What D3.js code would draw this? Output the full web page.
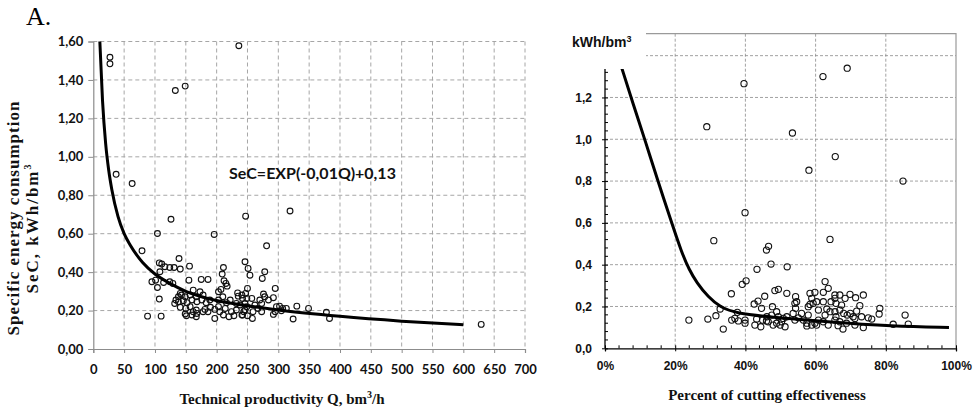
<!DOCTYPE html>
<html>
<head>
<meta charset="utf-8">
<script src="https://cdn.jsdelivr.net/npm/d3@7"></script>
<style>
  body { margin: 0; background: #fff; }
  svg { display: block; }
</style>
</head>
<body>
<svg id="chart" width="980" height="409"></svg>
<script>
// ---------- Left panel: specific energy consumption vs technical productivity ----------
const productivityQ = [
  27, 27, 133, 149, 236, 37, 63, 126, 104, 196, 247, 319, 281, 79, 629,
  139, 107, 111, 116, 124, 131, 141, 156, 108, 211, 246, 251, 209, 95, 101,
  114, 124, 129, 155, 175, 186, 212, 215, 217, 104, 207, 250, 203, 247, 234,
  162, 173, 141, 143, 138, 149, 157, 167, 178, 107, 134, 138, 132, 146, 152,
  160, 168, 176, 183, 189, 203, 210, 216, 222, 235, 242, 249, 141, 150, 157,
  167, 162, 168, 149, 151, 160, 167, 178, 181, 186, 190, 197, 203, 197, 205,
  211, 214, 220, 224, 228, 232, 241, 244, 249, 88, 110, 232, 238,
  254, 278, 274, 295, 276, 278, 292, 270, 273, 284, 257, 241, 246, 262, 267,
  246, 259, 273, 292, 242, 250, 258, 297, 302, 307, 313, 305, 330, 324, 349,
  378, 383, 295
];
const specificEnergy = [
  1.518, 1.484, 1.345, 1.368, 1.578, 0.909, 0.861, 0.675, 0.601, 0.596, 0.691, 0.718, 0.537, 0.511, 0.128,
  0.471, 0.448, 0.442, 0.428, 0.424, 0.424, 0.416, 0.431, 0.402, 0.424, 0.454, 0.419, 0.390, 0.350, 0.358,
  0.346, 0.350, 0.341, 0.358, 0.362, 0.362, 0.355, 0.341, 0.327, 0.320, 0.310, 0.315, 0.298, 0.289, 0.292,
  0.306, 0.298, 0.289, 0.281, 0.272, 0.272, 0.281, 0.272, 0.281, 0.260, 0.255, 0.246, 0.237, 0.251, 0.241,
  0.255, 0.246, 0.255, 0.241, 0.255, 0.255, 0.272, 0.241, 0.255, 0.275, 0.263, 0.263, 0.217, 0.211, 0.220,
  0.203, 0.194, 0.185, 0.182, 0.173, 0.177, 0.168, 0.194, 0.206, 0.194, 0.217, 0.206, 0.220, 0.159, 0.194,
  0.177, 0.211, 0.168, 0.194, 0.173, 0.203, 0.177, 0.194, 0.220, 0.171, 0.171, 0.237, 0.229,
  0.384, 0.402, 0.367, 0.315, 0.286, 0.272, 0.267, 0.255, 0.237, 0.255, 0.263, 0.281, 0.237, 0.229, 0.211,
  0.203, 0.194, 0.194, 0.180, 0.177, 0.173, 0.159, 0.220, 0.223, 0.211, 0.211, 0.199, 0.223, 0.156, 0.211,
  0.191, 0.159, 0.194
];
// fitted trend curve
const fitQ   = [10.6, 15, 20, 25, 30, 40, 50, 60, 80, 100, 125, 150, 200, 250, 300, 400, 500, 600];
const fitSeC = [1.60, 1.29, 1.07, 0.93, 0.83, 0.69, 0.60, 0.54, 0.45, 0.39, 0.34, 0.30, 0.252, 0.225, 0.203, 0.170, 0.145, 0.126];
const leftXTicks = [0, 50, 100, 150, 200, 250, 300, 350, 400, 450, 500, 550, 600, 650, 700];
const leftYTicks = [0, 0.2, 0.4, 0.6, 0.8, 1.0, 1.2, 1.4, 1.6];

// ---------- Right panel: energy vs percent of cutting effectiveness ----------
const cuttingPercent = [
  69.0, 62.1, 39.6, 29.0, 53.4, 65.6, 58.1, 84.9, 39.9, 31.0, 64.1, 46.6, 46.0, 47.3, 51.9, 43.3,
  40.2, 39.1, 36.0, 45.5, 43.6, 42.5, 44.6, 32.8, 37.7, 31.6, 29.3, 23.9, 33.7, 36.1, 37.0, 38.0,
  39.9, 39.9, 43.2, 44.9, 46.0, 42.7, 44.4,
  47.7, 48.9, 47.5, 46.1, 49.4, 50.8, 51.8, 46.5, 47.9, 48.9, 49.9, 51.3, 50.3, 48.4, 49.4, 51.8,
  54.3, 54.6, 54.1, 54.3, 53.6, 55.1, 54.1, 56.0, 56.5, 57.5, 57.5, 57.9, 58.4, 59.8, 58.9, 58.4,
  59.3, 60.3, 57.9, 60.8, 60.8, 60.3, 58.9, 62.2, 62.7, 63.6, 62.2, 62.2, 63.2, 62.7, 64.1, 63.6,
  65.5, 65.5, 66.9, 64.4, 65.8, 68.4, 69.8, 71.4, 73.6, 67.4, 72.6, 65.5, 66.9, 68.0, 69.0, 69.9,
  65.8, 70.7, 71.2, 65.5, 66.9, 66.4, 67.8, 68.8, 71.2, 71.7, 73.1, 75.0, 76.0, 73.6, 78.3, 78.1,
  82.1, 85.5, 86.4, 59.8
];
const energyPerBm3 = [
  1.340, 1.300, 1.266, 1.060, 1.030, 0.917, 0.852, 0.800, 0.649, 0.515, 0.521, 0.488, 0.470, 0.403, 0.390, 0.378,
  0.323, 0.306, 0.261, 0.249, 0.226, 0.212, 0.191, 0.188, 0.172, 0.156, 0.140, 0.135, 0.092, 0.135, 0.143, 0.131,
  0.135, 0.120, 0.140, 0.135, 0.131, 0.111, 0.103,
  0.199, 0.175, 0.159, 0.151, 0.151, 0.143, 0.151, 0.127, 0.111, 0.120, 0.111, 0.103, 0.127, 0.276, 0.282, 0.263,
  0.247, 0.223, 0.215, 0.191, 0.167, 0.146, 0.135, 0.167, 0.135, 0.120, 0.107, 0.159, 0.263, 0.268, 0.239, 0.210,
  0.215, 0.223, 0.199, 0.183, 0.135, 0.111, 0.111, 0.127, 0.319, 0.287, 0.268, 0.223, 0.188, 0.159, 0.175, 0.111,
  0.255, 0.239, 0.255, 0.223, 0.215, 0.239, 0.258, 0.242, 0.255, 0.207, 0.204, 0.175, 0.183, 0.167, 0.159, 0.167,
  0.151, 0.151, 0.143, 0.135, 0.127, 0.108, 0.092, 0.120, 0.111, 0.178, 0.151, 0.146, 0.140, 0.099, 0.191, 0.164,
  0.115, 0.159, 0.116, 0.120
];
const fitPercent = [4.8, 8, 11.7, 14.7, 19, 21.8, 24, 26.1, 29.4, 32.8, 37.5, 47, 63, 82, 98];
const fitEnergy  = [1.34, 1.17, 0.98, 0.82, 0.60, 0.46, 0.375, 0.315, 0.245, 0.197, 0.167, 0.150, 0.127, 0.105, 0.100];
const rightXTicks = [0, 20, 40, 60, 80, 100];
const rightYTicks = [0, 0.2, 0.4, 0.6, 0.8, 1.0, 1.2];

const svg = d3.select("#chart");
const comma = (fmt) => (d) => d3.format(fmt)(d).replace(".", ",");
const serif = "'Liberation Serif', 'Times New Roman', serif";

// ======================= LEFT PANEL =======================
const xL = d3.scaleLinear().domain([0, 700]).range([93.3, 525]);
const yL = d3.scaleLinear().domain([0, 1.6]).range([349, 41.5]);
const gL = svg.append("g");

// dashed grid
gL.append("g").selectAll("line").data(leftXTicks.slice(1)).join("line")
  .attr("x1", d => xL(d)).attr("x2", d => xL(d))
  .attr("y1", yL(1.6)).attr("y2", yL(0))
  .attr("stroke", "#a6a6a6").attr("stroke-width", 1).attr("stroke-dasharray", "4,3");
gL.append("g").selectAll("line").data(leftYTicks.slice(1)).join("line")
  .attr("x1", xL(0)).attr("x2", xL(700))
  .attr("y1", d => yL(d)).attr("y2", d => yL(d))
  .attr("stroke", "#a6a6a6").attr("stroke-width", 1).attr("stroke-dasharray", "4,3");

// axes
const axLX = gL.append("g").attr("transform", `translate(0,${yL(0)})`)
  .call(d3.axisBottom(xL).tickValues(leftXTicks).tickSize(4).tickPadding(12).tickFormat(d3.format("d")));
const axLY = gL.append("g").attr("transform", `translate(${xL(0)},0)`)
  .call(d3.axisLeft(yL).tickValues(leftYTicks).tickSize(5).tickPadding(5).tickFormat(comma(".2f")));
[axLX, axLY].forEach(ax => {
  ax.select(".domain").attr("stroke", "#8c8c8c").attr("stroke-width", 1.2);
  ax.selectAll(".tick line").attr("stroke", "#8c8c8c");
  ax.selectAll("text").attr("font-family", "Lato, 'Open Sans', sans-serif")
    .attr("font-weight", "bold").attr("font-size", 13).attr("fill", "#111");
});

// points
gL.append("g").selectAll("circle").data(productivityQ).join("circle")
  .attr("cx", d => xL(d)).attr("cy", (d, i) => yL(specificEnergy[i]))
  .attr("r", 2.9).attr("fill", "none").attr("stroke", "#111").attr("stroke-width", 1.1);

// trend curve
gL.append("path")
  .datum(fitQ.map((q, i) => [q, fitSeC[i]]))
  .attr("d", d3.line().x(d => xL(d[0])).y(d => yL(d[1])).curve(d3.curveMonotoneX))
  .attr("fill", "none").attr("stroke", "#000").attr("stroke-width", 3);

// equation
gL.append("text").attr("x", 229).attr("y", 179)
  .attr("font-family", "Lato, 'Open Sans', sans-serif").attr("font-weight", "bold")
  .attr("font-size", 16).attr("fill", "#111")
  .text("SeC=EXP(-0,01Q)+0,13");

// panel label
svg.append("text").attr("x", 26).attr("y", 25)
  .attr("font-family", serif).attr("font-size", 26).attr("fill", "#000").text("A.");

// axis titles
const xTitleL = svg.append("text").attr("x", 282).attr("y", 404).attr("text-anchor", "middle")
  .attr("font-family", serif).attr("font-weight", "bold").attr("font-size", 15).attr("fill", "#111");
xTitleL.append("tspan").text("Technical productivity Q, bm");
xTitleL.append("tspan").attr("dy", -6).attr("font-size", 10).text("3");
xTitleL.append("tspan").attr("dy", 6).text("/h");

svg.append("text").attr("transform", "translate(19,218) rotate(-90)")
  .attr("text-anchor", "middle").attr("font-family", serif).attr("font-weight", "bold")
  .attr("font-size", 17).attr("letter-spacing", 1).attr("fill", "#111")
  .text("Specific energy consumption");
const yT2 = svg.append("text").attr("transform", "translate(38,228) rotate(-90)")
  .attr("text-anchor", "middle").attr("font-family", serif).attr("font-weight", "bold")
  .attr("font-size", 17).attr("letter-spacing", 2).attr("fill", "#111");
yT2.append("tspan").text("SeC, kWh/bm");
yT2.append("tspan").attr("dy", -7).attr("font-size", 10).text("3");

// ======================= RIGHT PANEL =======================
const xR = d3.scaleLinear().domain([0, 100]).range([605, 956]);
const yR = d3.scaleLinear().domain([0, 1.505]).range([348.3, 33.7]);
const gR = svg.append("g");

// grid
gR.append("g").selectAll("line").data(rightXTicks.slice(1, -1)).join("line")
  .attr("x1", d => xR(d)).attr("x2", d => xR(d))
  .attr("y1", yR(1.505)).attr("y2", yR(0))
  .attr("stroke", "#8a8a8a").attr("stroke-width", 0.8).attr("stroke-dasharray", "3,2");
gR.append("g").selectAll("line").data([0.2, 0.4, 0.6, 0.8, 1.0, 1.2, 1.4]).join("line")
  .attr("x1", xR(0)).attr("x2", xR(100))
  .attr("y1", d => yR(d)).attr("y2", d => yR(d))
  .attr("stroke", "#8a8a8a").attr("stroke-width", 0.8).attr("stroke-dasharray", "3,2");
// frame top and right
gR.append("path")
  .attr("d", `M${xR(0)},${yR(1.505)}H${xR(100)}V${yR(0)}`)
  .attr("fill", "none").attr("stroke", "#9a9a9a").attr("stroke-width", 1.2);

// points
gR.append("g").selectAll("circle").data(cuttingPercent).join("circle")
  .attr("cx", d => xR(d)).attr("cy", (d, i) => yR(energyPerBm3[i]))
  .attr("r", 3.1).attr("fill", "none").attr("stroke", "#111").attr("stroke-width", 1.1);

// curve
gR.append("path")
  .datum(fitPercent.map((p, i) => [p, fitEnergy[i]]))
  .attr("d", d3.line().x(d => xR(d[0])).y(d => yR(d[1])).curve(d3.curveBasis))
  .attr("fill", "none").attr("stroke", "#000").attr("stroke-width", 3);

// unit label box sits over the upper-left corner of the plot
gR.append("rect").attr("x", 600).attr("y", 20).attr("width", 46).attr("height", 49).attr("fill", "#fff");
const unit = svg.append("text").attr("x", 572).attr("y", 47)
  .attr("font-family", "'Liberation Sans', Arial, sans-serif").attr("font-weight", "bold")
  .attr("font-size", 14).attr("fill", "#111");
unit.append("tspan").text("kWh/bm");
unit.append("tspan").attr("dy", -5).attr("font-size", 9).text("3");

// axes with minor ticks
const minorX = d3.range(0, 101, 4).filter(d => d % 20 !== 0);
const minorY = d3.range(0.04, 1.33, 0.04).filter(d => Math.abs(d / 0.2 - Math.round(d / 0.2)) > 1e-6);

const axRX = gR.append("g").attr("transform", `translate(0,${yR(0)})`)
  .call(d3.axisBottom(xR).tickValues(rightXTicks).tickSize(3).tickPadding(10).tickFormat(d => d + "%"));
axRX.selectAll(".tick line").attr("y1", -3);
gR.append("g").selectAll("line").data(minorX).join("line")
  .attr("x1", d => xR(d)).attr("x2", d => xR(d))
  .attr("y1", yR(0)).attr("y2", yR(0) - 3).attr("stroke", "#000");

const axRY = gR.append("g").attr("transform", `translate(${xR(0)},0)`)
  .call(d3.axisLeft(yR).tickValues(rightYTicks).tickSize(3).tickPadding(10).tickFormat(comma(".1f")));
axRY.select(".domain").attr("d", `M0,${yR(0)}V${yR(1.336)}`);
axRY.selectAll(".tick line").attr("x1", 3);
gR.append("g").selectAll("line").data(minorY).join("line")
  .attr("x1", xR(0)).attr("x2", xR(0) + 3)
  .attr("y1", d => yR(d)).attr("y2", d => yR(d)).attr("stroke", "#000");

[axRX, axRY].forEach(ax => {
  ax.select(".domain").attr("stroke", "#000").attr("stroke-width", 1.3);
  ax.selectAll(".tick line").attr("stroke", "#000");
  ax.selectAll("text").attr("font-family", "'Liberation Sans', Arial, sans-serif")
    .attr("font-weight", "bold").attr("font-size", 12).attr("fill", "#111");
});

svg.append("text").attr("x", 767).attr("y", 400).attr("text-anchor", "middle")
  .attr("font-family", serif).attr("font-weight", "bold").attr("font-size", 15).attr("fill", "#111")
  .text("Percent of cutting effectiveness");
</script>
</body>
</html>
